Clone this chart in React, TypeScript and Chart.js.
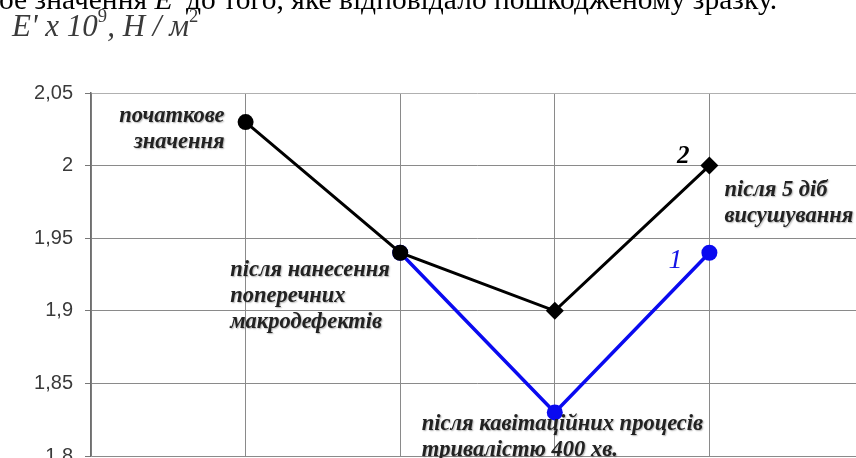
import React, { useEffect, useRef } from 'react';
import { Chart, registerables } from 'chart.js';

Chart.register(...registerables);

// ---- data ----
const xCategories = [
  '',
  'початкове значення',
  'після нанесення поперечних макродефектів',
  'після кавітаційних процесів тривалістю 400 хв.',
  'після 5 діб висушування',
  '',
];
const annotationLines: string[][] = [
  [],
  ['початкове', 'значення'],
  ['після нанесення', 'поперечних', 'макродефектів'],
  ['після кавітаційних процесів', 'тривалістю 400 хв.'],
  ['після 5 діб', 'висушування'],
  [],
];
const annotationSeries = [-1, 0, 0, 1, 0, -1];
const series2Values = [null, 2.03, 1.94, 1.9, 2.0, null];
const series1Values = [null, null, 1.94, 1.83, 1.94, null];
const seriesNames = ['2', '1'];
const yTickValues = [1.8, 1.85, 1.9, 1.95, 2.0, 2.05];
const yTickLabels = ['1,8', '1,85', '1,9', '1,95', '2', '2,05'];
const yMin = 1.8;
const yMax = 2.05;

// ---- styles ----
const CANVAS_W = 880;
const CANVAS_H = 480;
const AREA_LEFT = 91;
const AREA_TOP = 93;
const AREA_RIGHT = 864;
const AREA_BOTTOM = 453;
const X_AXIS_H = 14;
const BOTTOM_FUDGE = 8;

const annStyle: ({ dx: number; dy: number; align: CanvasTextAlign } | null)[] = [
  null,
  { dx: -21, dy: 0, align: 'right' },
  { dx: -170, dy: 23, align: 'left' },
  { dx: -133, dy: 18, align: 'left' },
  { dx: 15, dy: 30, align: 'left' },
  null,
];
const seriesLabelStyle = [
  { dx: -20, dy: -3, font: 'italic bold 25px "Liberation Serif"', color: '#000000' },
  { dx: -27, dy: 15, font: 'italic 28px "Liberation Serif"', color: '#1414e6' },
];

const annotationPlugin = {
  id: 'annotations',
  afterDatasetsDraw(chart: any) {
    const ctx: CanvasRenderingContext2D = chart.ctx;
    const xs = chart.scales.x;
    const ys = chart.scales.y;
    const seriesData = [series2Values, series1Values];
    ctx.save();
    ctx.textBaseline = 'alphabetic';
    ctx.font = 'italic bold 22.5px "Liberation Serif"';
    ctx.fillStyle = '#222222';
    ctx.shadowColor = 'rgba(0,0,0,0.3)';
    ctx.shadowBlur = 1.5;
    ctx.shadowOffsetX = 1;
    ctx.shadowOffsetY = 1;
    annotationLines.forEach((lines, i) => {
      const st = annStyle[i];
      const si = annotationSeries[i];
      if (!st || si < 0) return;
      const v = seriesData[si][i];
      if (v == null) return;
      const px = xs.getPixelForValue(i);
      const py = ys.getPixelForValue(v);
      ctx.textAlign = st.align;
      lines.forEach((ln, k) => {
        ctx.fillText(ln, px + st.dx, py + st.dy + k * 26);
      });
    });
    ctx.shadowColor = 'transparent';
    seriesNames.forEach((name, si) => {
      const data = seriesData[si];
      let last = -1;
      data.forEach((v, i) => { if (v != null) last = i; });
      if (last < 0) return;
      const st = seriesLabelStyle[si];
      const px = xs.getPixelForValue(last);
      const py = ys.getPixelForValue(data[last] as number);
      ctx.font = st.font;
      ctx.fillStyle = st.color;
      ctx.textAlign = 'right';
      ctx.fillText(name, px + st.dx, py + st.dy);
    });
    ctx.restore();
  },
};

function ChartCanvas() {
  const ref = useRef<HTMLCanvasElement | null>(null);
  useEffect(() => {
    if (!ref.current) return;
    const chart = new Chart(ref.current, {
      type: 'line',
      data: {
        labels: xCategories,
        datasets: [
          {
            label: seriesNames[0],
            data: series2Values,
            borderColor: '#000000',
            backgroundColor: '#000000',
            borderWidth: 3,
            pointStyle: ['circle', 'circle', 'circle', 'rectRot', 'rectRot', 'circle'] as any,
            pointRadius: [0, 8, 8, 9, 9, 0],
            pointBorderWidth: 0,
            tension: 0,
            spanGaps: false,
            order: 0,
          },
          {
            label: seriesNames[1],
            data: series1Values,
            borderColor: '#0a0af0',
            backgroundColor: '#0a0af0',
            borderWidth: 3.5,
            pointStyle: 'circle',
            pointRadius: 8,
            pointBorderWidth: 0,
            tension: 0,
            order: 1,
          },
        ],
      },
      options: {
        animation: false,
        responsive: false,
        maintainAspectRatio: false,
        layout: {
          padding: {
            left: 0,
            top: AREA_TOP,
            right: CANVAS_W - AREA_RIGHT,
            bottom: CANVAS_H - AREA_BOTTOM - X_AXIS_H - BOTTOM_FUDGE,
          },
        },
        plugins: {
          legend: { display: false },
          tooltip: { enabled: false },
          title: { display: false },
        },
        scales: {
          x: {
            type: 'category',
            offset: false,
            ticks: { display: false },
            grid: { color: '#8a8a8a', lineWidth: 1, drawTicks: false },
            border: { display: false },
            afterFit: (s: any) => { s.height = X_AXIS_H; },
          },
          y: {
            type: 'linear',
            min: yMin,
            max: yMax,
            afterBuildTicks: (s: any) => {
              s.ticks = yTickValues.map((v) => ({ value: v }));
            },
            afterFit: (s: any) => { s.width = AREA_LEFT; },
            ticks: {
              padding: 12,
              color: '#3a3a3a',
              font: { family: '"Liberation Sans", Arial, sans-serif', size: 20 },
              callback: (v: any) => {
                const idx = yTickValues.findIndex((t) => Math.abs(t - Number(v)) < 1e-9);
                return idx >= 0 ? yTickLabels[idx] : '';
              },
            },
            grid: {
              color: (c: any) => (c.tick && Math.abs(c.tick.value - yMax) < 1e-9 ? '#b0b0b0' : '#8a8a8a'),
              lineWidth: 1,
              drawTicks: true,
              tickLength: 6,
              tickColor: '#777777',
            },
            border: { display: true, color: '#6e6e6e', width: 1.5 },
          },
        },
      },
      plugins: [annotationPlugin],
    });
    return () => chart.destroy();
  }, []);
  return (
    <div style={{ position: 'absolute', left: 0, top: 0, width: CANVAS_W, height: CANVAS_H }}>
      <canvas
        ref={ref}
        width={CANVAS_W}
        height={CANVAS_H}
        style={{ display: 'block', width: CANVAS_W, height: CANVAS_H }}
      />
    </div>
  );
}

const supStyle: React.CSSProperties = {
  fontSize: '0.6em',
  fontStyle: 'normal',
  verticalAlign: 'baseline',
  position: 'relative',
  top: '-0.75em',
};

export default function App() {
  return (
    <div
      style={{
        position: 'fixed',
        left: 0,
        top: 0,
        width: 856,
        height: 458,
        overflow: 'hidden',
        background: '#ffffff',
      }}
    >
      <ChartCanvas />
      <div
        style={{
          position: 'absolute',
          left: -1,
          top: -16,
          whiteSpace: 'nowrap',
          fontFamily: '"Liberation Serif", "Times New Roman", serif',
          fontSize: 29.5,
          lineHeight: '30px',
          color: '#000',
        }}
      >
        ое значення <i>E'</i> до того, яке відповідало пошкодженому зразку.
      </div>
      <div
        style={{
          position: 'absolute',
          left: 12,
          top: 11,
          whiteSpace: 'nowrap',
          fontFamily: '"Liberation Serif", "Times New Roman", serif',
          fontStyle: 'italic',
          fontSize: 31,
          lineHeight: '30px',
          color: '#3a3a3a',
        }}
      >
        E' x 10<span style={supStyle}>9</span>, Н / м<span style={supStyle}>2</span>
      </div>
    </div>
  );
}
